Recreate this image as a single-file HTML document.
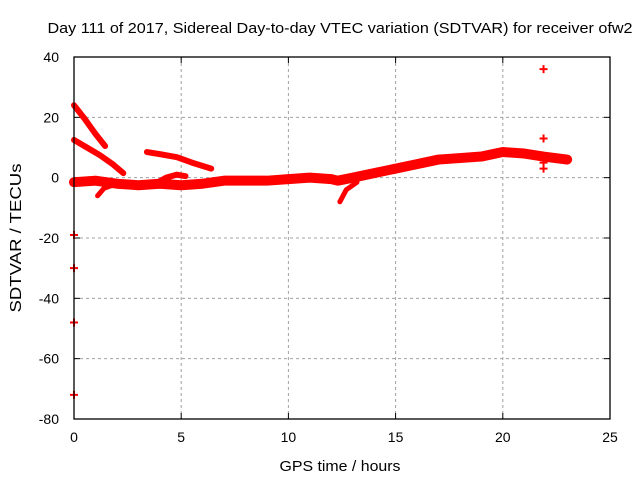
<!DOCTYPE html>
<html><head><meta charset="utf-8"><style>
body{margin:0;background:#fff}
svg{display:block;font-family:"Liberation Sans",sans-serif}
</style></head><body>
<svg id="chart" width="640" height="480">
<text x="340" y="33" text-anchor="middle" font-size="15" textLength="585" lengthAdjust="spacingAndGlyphs">Day 111 of 2017, Sidereal Day-to-day VTEC variation (SDTVAR) for receiver ofw2</text>
<text x="340" y="471" text-anchor="middle" font-size="15" textLength="121" lengthAdjust="spacingAndGlyphs">GPS time / hours</text>
<text transform="translate(21,238) rotate(-90)" text-anchor="middle" font-size="16" textLength="149" lengthAdjust="spacingAndGlyphs">SDTVAR / TECUs</text>
<g id="grid"></g><g id="ticks"></g><g id="data"></g>
<rect x="74" y="57" width="536" height="362" fill="none" stroke="#000" stroke-width="1.3"/>
</svg>
<script>
const xTicks=[0,5,10,15,20,25];
const yTicks=[40,20,0,-20,-40,-60,-80];
const segSteep=[[0,24],[0.5,19.5],[1,14.5],[1.45,10.5]];
const segUpper=[[0,12.5],[0.6,10],[1.2,7.5],[1.8,4.5],[2.3,1.5]];
const segMid=[[3.4,8.5],[4,7.8],[4.8,6.8],[5.5,5],[6.4,3]];
const segMain=[[0,-1.5],[1,-1],[2,-2],[3,-2.5],[4,-2],[5,-2.5],[6,-2],[7,-1],[8,-1],[9,-1],[10,-0.5],[11,0],[12,-0.5],[12.3,-1],[13,0],[14,1.5],[15,3],[16,4.5],[17,6],[18,6.5],[19,7],[20,8.5],[21,8],[21.9,7],[23,6]];
const segHump=[[3.8,-2],[4.3,0],[4.8,1],[5.2,0.5]];
const segDip1=[[1.1,-6],[1.4,-3.5],[2,-2]];
const segDip2=[[12.4,-8],[12.7,-4],[13.2,-1.5]];
const outliers=[[0,-19],[0,-30],[0,-48],[0,-72],[21.9,36],[21.9,13],[21.9,3],[21.9,5]];
const X=v=>74+v*536/25, Y=v=>57+(40-v)*362/120;
const NS="http://www.w3.org/2000/svg";
function mk(t,a,p){const e=document.createElementNS(NS,t);for(const k in a)e.setAttribute(k,a[k]);p.appendChild(e);return e;}
const g=document.getElementById('grid'),tk=document.getElementById('ticks'),d=document.getElementById('data');
xTicks.forEach(v=>{
 if(v>0&&v<25){const l=mk('line',{x1:X(v),x2:X(v),y1:57,y2:419,stroke:'#a0a0a0','stroke-dasharray':'3,3'},g);
 
 }
 mk('line',{x1:X(v),x2:X(v),y1:419,y2:413,stroke:'#000'},tk);mk('line',{x1:X(v),x2:X(v),y1:57,y2:63,stroke:'#000'},tk);
 const t=mk('text',{x:X(v),y:442,'text-anchor':'middle','font-size':14},tk);t.textContent=v;
 
 
});
yTicks.forEach(v=>{
 if(v<40&&v>-80){const l=mk('line',{x1:74,x2:610,y1:Y(v),y2:Y(v),stroke:'#a0a0a0','stroke-dasharray':'3,3'},g);
 
 }
 mk('line',{x1:74,x2:80,y1:Y(v),y2:Y(v),stroke:'#000'},tk);mk('line',{x1:610,x2:604,y1:Y(v),y2:Y(v),stroke:'#000'},tk);
 const t=mk('text',{x:59,y:Y(v)+5,'text-anchor':'end','font-size':14},tk);t.textContent=v;
 
 
});
function seg(arr,w,name){
 const p=mk('polyline',{points:arr.map(q=>X(q[0])+','+Y(q[1])).join(' '),fill:'none',stroke:'#f00','stroke-width':w,'stroke-linejoin':'round','stroke-linecap':'round'},d);
 
 
}
seg(segSteep,6,'series-steep-arc');
seg(segUpper,6,'series-upper-arc');
seg(segMid,6,'series-mid-arc');
seg(segMain,10,'series-main-band');
seg(segHump,6,'series-hump');
seg(segDip1,5,'series-dip-1');
seg(segDip2,5,'series-dip-2');
outliers.forEach(q=>{
 const p=mk('path',{d:`M${X(q[0])-4},${Y(q[1])}h8M${X(q[0])},${Y(q[1])-4}v8`,stroke:'#f00','stroke-width':2},d);
 
 
});
</script>
</body></html>
